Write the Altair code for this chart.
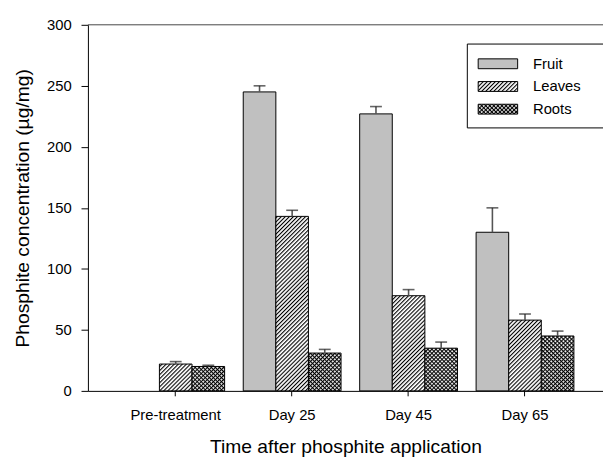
import altair as alt
import pandas as pd
import altair.utils.html as _ah

# ---- data ----
categories = ["Pre-treatment", "Day 25", "Day 45", "Day 65"]
tissues = ["Fruit", "Leaves", "Roots"]
fruit_mean = [None, 245, 227, 130]
fruit_err = [None, 5, 6, 20]
leaves_mean = [22, 143, 78, 58]
leaves_err = [2, 5, 5, 5]
roots_mean = [20, 31, 35, 45]
roots_err = [1, 3, 5, 4]
y_ticks = [0, 50, 100, 150, 200, 250, 300]
fills = ["#c0c0c0", "url(#hatchL)", "url(#crossR)"]

rows = []
for t, means, errs in zip(tissues, [fruit_mean, leaves_mean, roots_mean],
                          [fruit_err, leaves_err, roots_err]):
    for c, m, e in zip(categories, means, errs):
        if m is None:
            continue
        rows.append({"cat": c, "tissue": t, "value": m, "top": m + e})
df = pd.DataFrame(rows)

# ---- SVG fill patterns (hatching) added to the page ----
DEFS = """<svg width="0" height="0" style="position:absolute;left:0;top:0" aria-hidden="true">
<defs>
<pattern id="hatchL" patternUnits="userSpaceOnUse" width="2.9" height="2.9" patternTransform="rotate(45)">
<rect x="0" y="0" width="2.9" height="2.9" fill="#ffffff"/>
<rect x="0" y="0" width="1.1" height="2.9" fill="#000000"/>
</pattern>
<pattern id="crossR" patternUnits="userSpaceOnUse" width="2.9" height="2.9" patternTransform="rotate(45)">
<rect x="0" y="0" width="2.9" height="2.9" fill="#ffffff"/>
<rect x="0" y="0" width="1.1" height="2.9" fill="#000000"/>
<rect x="0" y="0" width="2.9" height="1.1" fill="#000000"/>
</pattern>
</defs></svg>
"""

_orig_tpl = _ah.TEMPLATES["standard"]


class _PatternTemplate:
    def render(self, **kw):
        html = _orig_tpl.render(**kw)
        if "<body>" in html:
            return html.replace("<body>", "<body>\n" + DEFS, 1)
        return DEFS + html


_ah.TEMPLATES["standard"] = _PatternTemplate()

FONT = "Liberation Sans"

xenc = alt.X(
    "cat:N",
    sort=categories,
    scale=alt.Scale(domain=categories, paddingInner=0.16, paddingOuter=0.292, align=0.572),
    axis=alt.Axis(title="Time after phosphite application", labelAngle=0, tickSize=5,
                  labelPadding=12, titlePadding=15),
)
xo = alt.XOffset("tissue:N", sort=tissues,
                 scale=alt.Scale(domain=tissues, paddingInner=0, paddingOuter=0))
yscale = alt.Scale(domain=[0, 300], nice=False, zero=True)
yenc = alt.Y("value:Q", scale=yscale,
             axis=alt.Axis(values=y_ticks, title="Phosphite concentration (µg/mg)",
                           tickSize=7, labelPadding=10, titlePadding=14))

base = alt.Chart(df)

bars = base.mark_bar(stroke="black", strokeWidth=1).encode(
    x=xenc,
    xOffset=xo,
    y=yenc,
    fill=alt.Fill(
        "tissue:N",
        scale=alt.Scale(domain=tissues, range=fills),
        legend=alt.Legend(
            title=None, orient="none", legendX=384, legendY=19, padding=10,
            strokeColor="black", fillColor="white",
            symbolType="M-2,-0.5H2V0.5H-2Z", symbolSize=400, symbolOffset=11,
            symbolStrokeColor="black", symbolStrokeWidth=1,
            labelFont=FONT, labelFontSize=15, labelColor="black",
            labelOffset=25, rowPadding=4,
            labelExpr="datum.label + '     \u200b'",
        ),
    ),
)

stems = base.mark_rule(color="#555555", strokeWidth=1.6).encode(
    x=xenc, xOffset=xo, y=alt.Y("value:Q", scale=yscale), y2="top:Q"
)
caps = base.mark_tick(color="#222222", thickness=1.6, size=12).encode(
    x=xenc, xOffset=xo, y=alt.Y("top:Q", scale=yscale)
)
topline = alt.Chart(pd.DataFrame({"k": [0]})).mark_rule(color="#444444", strokeWidth=1).encode(
    y=alt.datum(300)
)

chart = (
    alt.layer(bars, stems, caps, topline)
    .properties(width=522, height=371,
                autosize=alt.AutoSizeParams(type="none"),
                padding={"left": 81, "top": 14, "right": 0, "bottom": 66})
    .configure_view(strokeWidth=0)
    .configure_axis(domainColor="black", tickColor="black", labelColor="black",
                    titleColor="black", labelFont=FONT, titleFont=FONT,
                    labelFontSize=15, titleFontSize=19.5, titleFontWeight="normal",
                    grid=False, domainWidth=1, tickWidth=1)
)

chart.save("out.html", embed_options={"renderer": "svg", "actions": False})
